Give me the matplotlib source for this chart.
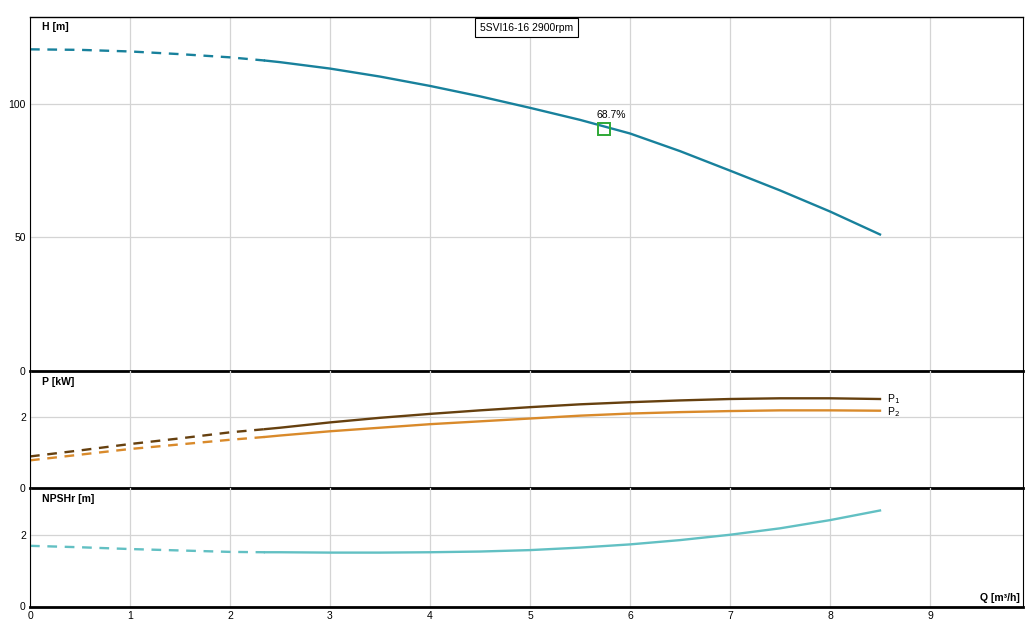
import matplotlib
matplotlib.use('Agg')
import matplotlib.pyplot as plt

plt.rcParams['font.family'] = ['Liberation Sans', 'DejaVu Sans']
plt.rcParams['lines.scale_dashes'] = False

# flow points; first 6 points (up to 2.35) are dashed
q = [0, 0.5, 1, 1.5, 2, 2.35, 2.5, 3, 3.5, 4, 4.5, 5, 5.5, 6, 6.5, 7, 7.5, 8, 8.5]
n_dash = 6

head = [120.4, 120.2, 119.6, 118.6, 117.4, 116.2, 115.6, 113.2, 110.2, 106.7,
        102.8, 98.5, 94.0, 88.9, 82.3, 75.0, 67.6, 59.7, 51.1]
p1 = [0.89, 1.06, 1.24, 1.40, 1.57, 1.66, 1.70, 1.85, 1.98, 2.09,
      2.19, 2.28, 2.36, 2.42, 2.47, 2.51, 2.53, 2.53, 2.51]
p2 = [0.78, 0.94, 1.10, 1.23, 1.36, 1.44, 1.48, 1.60, 1.70, 1.80,
      1.88, 1.96, 2.04, 2.10, 2.14, 2.17, 2.19, 2.19, 2.18]
npsh = [1.70, 1.66, 1.61, 1.57, 1.53, 1.52, 1.52, 1.51, 1.51, 1.52,
        1.54, 1.58, 1.65, 1.74, 1.86, 2.01, 2.19, 2.42, 2.69]

bep_q, bep_h, bep_label = 5.74, 90.6, '68.7%'
title = '5SVI16-16 2900rpm'

c_head = '#18819c'
c_p1 = '#66400f'
c_p2 = '#d98a2b'
c_npsh = '#62c0c3'
c_grid = '#d4d4d4'
fs = 7.5
dash = (0, (7, 5.5))
lw = 1.7

fig = plt.figure(figsize=(10.35, 6.28), dpi=100)
L, W = 30 / 1035, 993 / 1035


def fy(px):
    return 1 - px / 628


ax_h = fig.add_axes([L, fy(371), W, fy(17) - fy(371)])
ax_p = fig.add_axes([L, fy(488), W, fy(371) - fy(488)], sharex=ax_h)
ax_n = fig.add_axes([L, fy(606.5), W, fy(488) - fy(606.5)], sharex=ax_h)

for ax in (ax_h, ax_p, ax_n):
    ax.set_xlim(0, 9.93)
    ax.set_xticks(range(0, 10))
    ax.grid(True, color=c_grid, linewidth=0.9)
    ax.set_axisbelow(True)
    ax.tick_params(length=0, labelsize=fs, pad=3)
    for s in ('top', 'left', 'right'):
        ax.spines[s].set_linewidth(0.8)
    ax.spines['bottom'].set_linewidth(2)
    ax.spines['bottom'].set_zorder(5)
ax_h.spines['top'].set_linewidth(1)
ax_p.spines['top'].set_visible(False)
ax_n.spines['top'].set_visible(False)
ax_p.patch.set_visible(False)
ax_n.patch.set_visible(False)
ax_h.tick_params(labelbottom=False)
ax_p.tick_params(labelbottom=False)

# head
ax_h.set_ylim(0, 132.5)
ax_h.set_yticks([0, 50, 100])
ax_h.plot(q[:n_dash], head[:n_dash], color=c_head, lw=lw, linestyle=dash)
ax_h.plot(q[n_dash - 1:], head[n_dash - 1:], color=c_head, lw=lw)
ax_h.plot([bep_q], [bep_h], marker='s', markersize=8, markerfacecolor='none',
          markeredgecolor='#2ea836', markeredgewidth=1.4)
ax_h.text(bep_q + 0.07, bep_h + 3.5, bep_label, fontsize=fs, ha='center', va='bottom')
ax_h.text(0.012, 0.985, 'H [m]', transform=ax_h.transAxes, fontsize=fs,
          fontweight='bold', ha='left', va='top')
ax_h.text(0.5, 0.984, title, transform=ax_h.transAxes, fontsize=fs, ha='center', va='top',
          bbox=dict(boxstyle='square,pad=0.45', facecolor='white', edgecolor='black', linewidth=0.8))

# power
ax_p.set_ylim(0, 3.3)
ax_p.set_yticks([0, 2])
for vals, col in ((p1, c_p1), (p2, c_p2)):
    ax_p.plot(q[:n_dash], vals[:n_dash], color=col, lw=lw, linestyle=dash)
    ax_p.plot(q[n_dash - 1:], vals[n_dash - 1:], color=col, lw=lw)
ax_p.text(q[-1] + 0.07, p1[-1], 'P$_1$', fontsize=fs, ha='left', va='center')
ax_p.text(q[-1] + 0.07, p2[-1] - 0.03, 'P$_2$', fontsize=fs, ha='left', va='center')
ax_p.text(0.012, 0.95, 'P [kW]', transform=ax_p.transAxes, fontsize=fs,
          fontweight='bold', ha='left', va='top')

# npsh
ax_n.set_ylim(0, 3.32)
ax_n.set_yticks([0, 2])
ax_n.plot(q[:n_dash], npsh[:n_dash], color=c_npsh, lw=lw, linestyle=dash)
ax_n.plot(q[n_dash - 1:], npsh[n_dash - 1:], color=c_npsh, lw=lw)
ax_n.text(0.012, 0.95, 'NPSHr [m]', transform=ax_n.transAxes, fontsize=fs,
          fontweight='bold', ha='left', va='top')
ax_n.text(0.997, 0.03, 'Q [m³/h]', transform=ax_n.transAxes, fontsize=fs,
          fontweight='bold', ha='right', va='bottom')

fig.savefig('out.png', dpi=100)
